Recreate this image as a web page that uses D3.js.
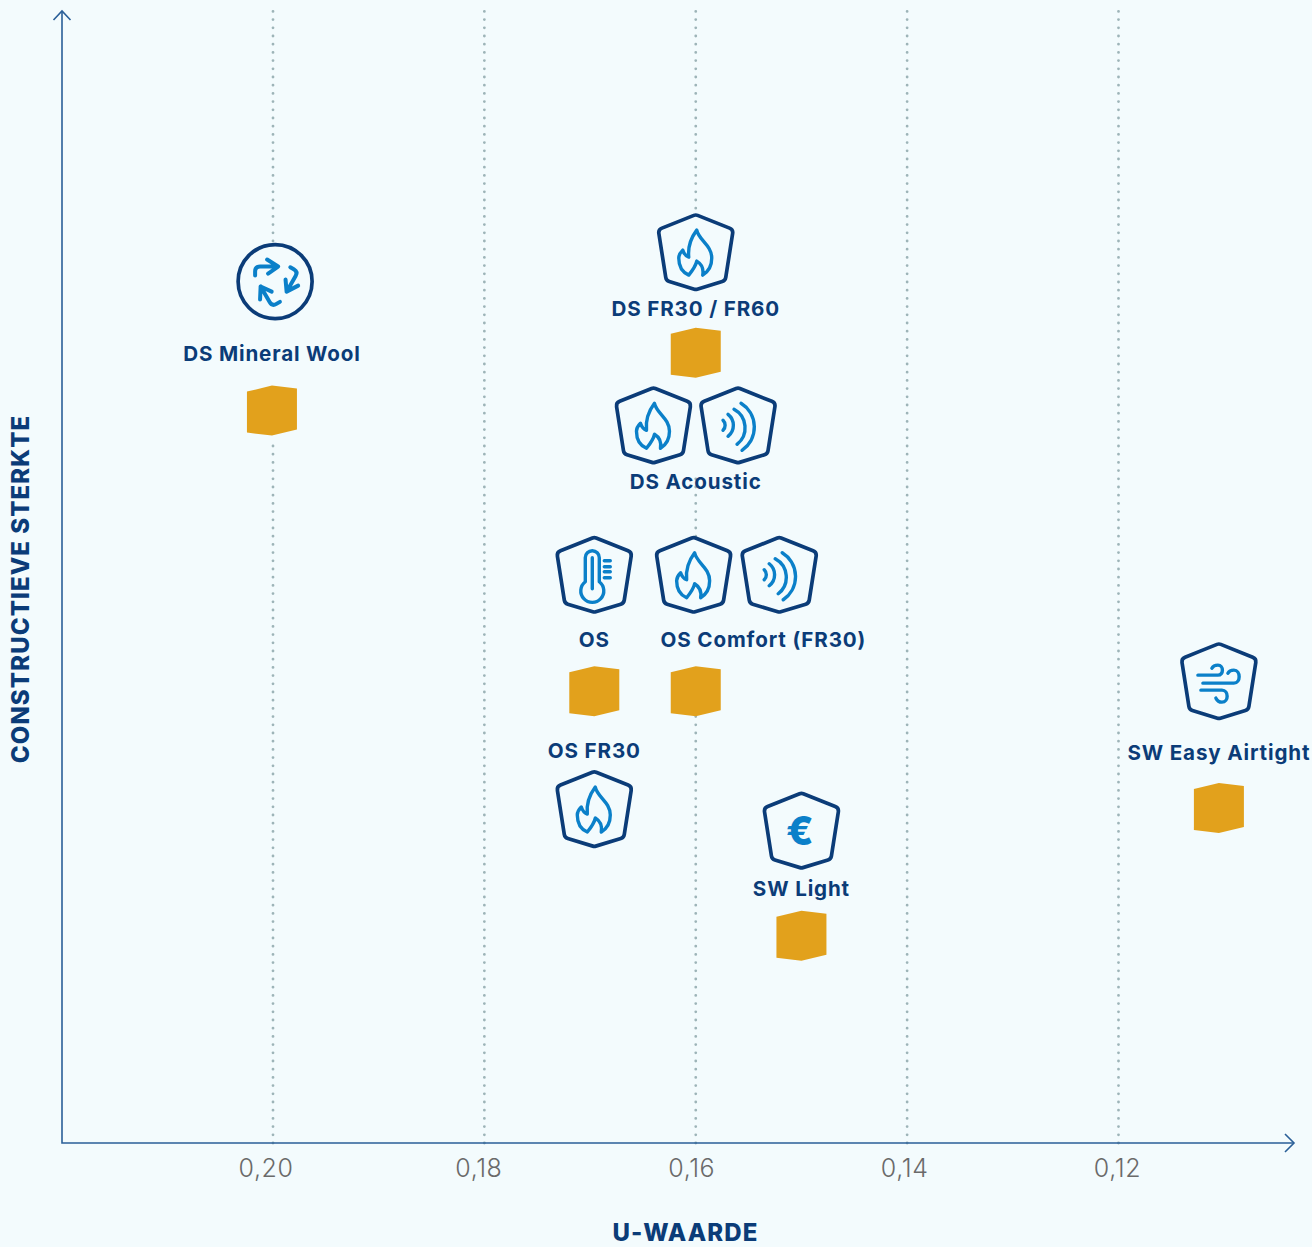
<!DOCTYPE html>
<html>
<head>
<meta charset="utf-8">
<title>U-waarde / constructieve sterkte</title>
<script src="https://cdn.jsdelivr.net/npm/d3@7"></script>
<style>
	html, body { margin: 0; padding: 0; background: #f3fbfd; }
	svg { display: block; }
	text { font-family: Inter, "Open Sans", sans-serif; }
	.label { font-size: 20.6px; font-weight: 700; fill: #0b3c78; text-anchor: middle; letter-spacing: 0.85px; }
	.axis-title { font-size: 24px; font-weight: 800; fill: #0b3c78; text-anchor: middle; letter-spacing: 1.1px; }
	.axis-ticks text { font-size: 25px; font-weight: 300; fill: #6a6a6a; letter-spacing: 0.6px; }
</style>
</head>
<body>
<script>
/* data: x = U-waarde, y = constructieve sterkte (no unit, 0-100) */
const tickValues = [0.20, 0.18, 0.16, 0.14, 0.12];

const labelNames = ["DS Mineral Wool", "DS FR30 / FR60", "DS Acoustic", "OS", "OS Comfort (FR30)", "OS FR30", "SW Light", "SW Easy Airtight"];
const labelU = [0.2001, 0.16, 0.16, 0.1696, 0.1536, 0.1696, 0.15, 0.1105];
const labelStrength = [69.1, 73.1, 57.8, 43.8, 43.8, 34.0, 21.8, 33.8];

const cubeU = [0.2001, 0.16, 0.1696, 0.16, 0.15, 0.1105];
const cubeStrength = [64.7, 69.8, 39.9, 39.9, 18.3, 29.6];

const iconTypes = ["recycle", "flame", "flame", "sound", "thermo", "flame", "sound", "flame", "euro", "wind"];
const iconU = [0.1998, 0.16, 0.164, 0.156, 0.1696, 0.1602, 0.1521, 0.1696, 0.15, 0.1105];
const iconStrength = [76.1, 78.7, 63.4, 63.4, 50.2, 50.2, 50.2, 29.5, 27.6, 40.8];

// stretches of grid line that are hidden behind a product block
const gapU = [0.20, 0.16, 0.16];
const gapFrom = [79.5, 82, 53];
const gapTo = [62, 59, 38];

const WIDTH = 1312,
	HEIGHT = 1247,
	AXIS_LEFT = 62,
	AXIS_RIGHT = 1294,
	AXIS_BOTTOM = 1143,
	AXIS_TOP = 11;

const BACKGROUND = "#f3fbfd",
	NAVY = "#0b3c78",
	BLUE = "#0b80c9",
	AXIS_COLOR = "#2a5f98",
	GOLD = "#e2a11c";

const svg = d3.select("body").append("svg")
	.attr("width", WIDTH)
	.attr("height", HEIGHT);

/* scales */
const x = d3.scaleLinear().domain([0.20, 0.12]).range([273, 1118.5]);
const y = d3.scaleLinear().domain([0, 100]).range([AXIS_BOTTOM, AXIS_TOP]);
// the tick labels sit on a slightly wider spacing than the grid lines
const xLabels = d3.scaleLinear().domain([0.20, 0.12]).range([265.5, 1117]);

/* dotted grid */
svg.append("g").selectAll("line")
	.data(tickValues)
	.enter().append("line")
	.attr("x1", d => x(d))
	.attr("x2", d => x(d))
	.attr("y1", AXIS_BOTTOM)
	.attr("y2", 8)
	.attr("stroke", "#9db4b8")
	.attr("stroke-width", 2.8)
	.attr("stroke-linecap", "round")
	.attr("stroke-dasharray", "0 8.2");

svg.append("g").selectAll("rect")
	.data(gapU.map((u, i) => ({ u: u, from: gapFrom[i], to: gapTo[i] })))
	.enter().append("rect")
	.attr("x", d => x(d.u) - 4)
	.attr("width", 8)
	.attr("y", d => y(d.from))
	.attr("height", d => y(d.to) - y(d.from))
	.attr("fill", BACKGROUND);

/* axes */
const axis = svg.append("g")
	.attr("fill", "none")
	.attr("stroke", AXIS_COLOR)
	.attr("stroke-width", 1.6);
axis.append("path").attr("d", `M${AXIS_LEFT},${AXIS_TOP}V${AXIS_BOTTOM}H${AXIS_RIGHT}`);
axis.append("path").attr("d", `M${AXIS_LEFT - 8.5},${AXIS_TOP + 9}L${AXIS_LEFT},${AXIS_TOP}L${AXIS_LEFT + 8.5},${AXIS_TOP + 9}`);
axis.append("path").attr("d", `M${AXIS_RIGHT - 9},${AXIS_BOTTOM - 9}L${AXIS_RIGHT},${AXIS_BOTTOM}L${AXIS_RIGHT - 9},${AXIS_BOTTOM + 9}`);

const ticks = svg.append("g")
	.attr("class", "axis-ticks")
	.attr("transform", `translate(0,${AXIS_BOTTOM})`)
	.call(d3.axisBottom(xLabels)
		.tickValues(tickValues)
		.tickSize(0)
		.tickPadding(16)
		.tickFormat(d => d.toFixed(2).replace(".", ",")));
ticks.select(".domain").remove();
ticks.selectAll("text").attr("dy", "0.71em");

svg.append("text")
	.attr("class", "axis-title")
	.attr("x", 685.5)
	.attr("y", 1241)
	.text("U-WAARDE");

svg.append("text")
	.attr("class", "axis-title")
	.attr("transform", "translate(29,589) rotate(-90)")
	.text("CONSTRUCTIEVE STERKTE");

/* glyphs, local coordinates around the centre of each icon */
const SHIELD = [[0, -37.5], [37.5, -22.5], [29.5, 28.5], [0, 37.5], [-29.5, 28.5], [-37.5, -22.5]];

function roundedPolygon(points, r) {
	const p = d3.path();
	const n = points.length;
	const first = points[0], last = points[n - 1];
	p.moveTo((first[0] + last[0]) / 2, (first[1] + last[1]) / 2);
	points.forEach((pt, i) => {
		const next = points[(i + 1) % n];
		p.arcTo(pt[0], pt[1], next[0], next[1], r);
	});
	p.closePath();
	return p.toString();
}

const GLYPHS = {
	flame: "M1,-22 C3,-12 16,-7 16,6 C16,14 12,20 7,23 C8,17 6,12 1,9 C0,14 -3,18 -7,23 C-14,20 -17,13 -17,6 C-17,3 -15,0 -13,-2 C-12,1 -10,4 -7,5 C-8,-5 -5,-14 1,-22 Z",
	sound: "M-15,-5 A7,7 0 0 1 -15,5 M-10,-11 A14,14 0 0 1 -10,11 M-4,-16 A21,21 0 0 1 -1,19 M3,-22 A28,28 0 0 1 4,25",
	thermo: "M-9,7 V-17 A7,7 0 0 1 5,-17 V7 A11.5,11.5 0 1 1 -9,7 Z M-2,-17 V14 M10,-14 H16 M10,-8 H16 M10,-3 H16 M10,3 H16",
	wind: "M-21,-6 H-1 C5,-6 5,-16 -1,-16 C-4,-16 -6,-15 -7,-13 M-16,2 H15 C22,2 22,-11 15,-11 C12,-11 10,-10 9,-8 M-18,9 H3 C10,9 10,21 3,21 C0,21 -2,19 -3,17"
};

/* one arrow of the recycle mark, turned 3 times */
const RECYCLE_ARROW = "M-20,-6 V-10 Q-20,-15 -15,-15 H3 M-8,-22 L3,-15 L-7,-8";

/* draw cubes */
const CUBE = [[-25, -19], [0, -25], [25, -22], [25, 19], [0, 25], [-25, 22]];
svg.append("g").selectAll("path")
	.data(cubeU.map((u, i) => ({ u: u, s: cubeStrength[i] })))
	.enter().append("path")
	.attr("transform", d => `translate(${x(d.u)},${y(d.s)})`)
	.attr("fill", GOLD)
	.attr("d", "M" + CUBE.join("L") + "Z");

/* draw icons */
const icons = svg.append("g").selectAll("g")
	.data(iconTypes.map((t, i) => ({ type: t, u: iconU[i], s: iconStrength[i] })))
	.enter().append("g")
	.attr("transform", d => `translate(${x(d.u)},${y(d.s)})`)
	.attr("fill", "none")
	.attr("stroke-linecap", "round")
	.attr("stroke-linejoin", "round");

icons.each(function (d) {
	const g = d3.select(this);
	if (d.type === "recycle") {
		g.append("circle")
			.attr("r", 37)
			.attr("fill", BACKGROUND)
			.attr("stroke", NAVY)
			.attr("stroke-width", 3.7);
		[0, 120, 240].forEach(a => {
			g.append("path")
				.attr("d", RECYCLE_ARROW)
				.attr("transform", `rotate(${a})`)
				.attr("stroke", BLUE)
				.attr("stroke-width", 4);
		});
		return;
	}
	g.append("path")
		.attr("d", roundedPolygon(SHIELD, 5))
		.attr("fill", BACKGROUND)
		.attr("stroke", NAVY)
		.attr("stroke-width", 3.7);
	if (d.type === "euro") {
		g.append("text")
			.attr("text-anchor", "middle")
			.attr("x", -1.5)
			.attr("y", 14)
			.attr("font-size", 40)
			.attr("font-weight", 800)
			.attr("fill", BLUE)
			.text("€");
		return;
	}
	g.append("path")
		.attr("d", GLYPHS[d.type])
		.attr("stroke", BLUE)
		.attr("stroke-width", 3.4);
});

/* product names */
svg.append("g").selectAll("text")
	.data(labelNames.map((n, i) => ({ name: n, u: labelU[i], s: labelStrength[i] })))
	.enter().append("text")
	.attr("class", "label")
	.attr("x", d => x(d.u))
	.attr("y", d => y(d.s))
	.text(d => d.name);
</script>
</body>
</html>
